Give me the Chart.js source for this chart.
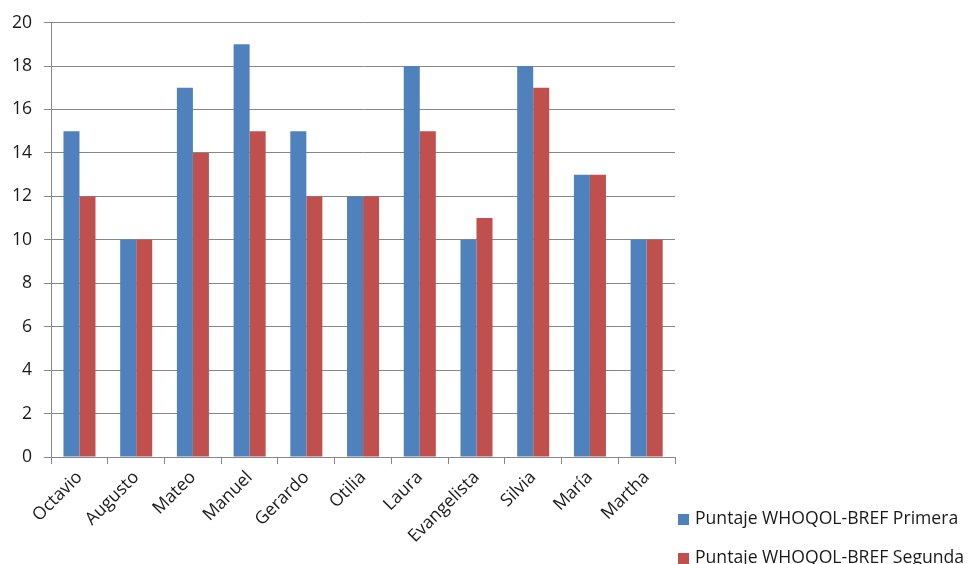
<!DOCTYPE html>
<html>
<head>
<meta charset="utf-8">
<script src="https://cdn.jsdelivr.net/npm/chart.js@4"></script>
<style>
  html, body { margin: 0; padding: 0; background: #fff; }
  #wrap { position: relative; width: 970px; height: 564px; overflow: hidden; }
  .leyenda {
    position: absolute;
    left: 678px;
    font: 17.6px 'Open Sans', Lato, sans-serif;
    color: #1a1a1a;
    white-space: nowrap;
    line-height: 22px;
  }
  .leyenda span {
    display: inline-block;
    width: 11px;
    height: 11px;
    margin-right: 6px;
    vertical-align: -1px;
  }
</style>
</head>
<body>
<div id="wrap">
  <canvas id="whoqolChart"></canvas>
  <div class="leyenda" id="ley1" style="top:506px"></div>
  <div class="leyenda" id="ley2" style="top:545px"></div>
</div>
<script>
const nombres = ['Octavio', 'Augusto', 'Mateo', 'Manuel', 'Gerardo', 'Otilia', 'Laura', 'Evangelista', 'Silvia', 'María', 'Martha'];
const primera = [15, 10, 17, 19, 15, 12, 18, 10, 18, 13, 10];
const segunda = [12, 10, 14, 15, 12, 12, 15, 11, 17, 13, 10];
const yTicks = [0, 2, 4, 6, 8, 10, 12, 14, 16, 18, 20];
const series = ['Puntaje WHOQOL-BREF Primera', 'Puntaje WHOQOL-BREF Segunda'];
const colores = ['#4F81BD', '#C0504D'];

const fuente = "'Open Sans', Lato, sans-serif";
const gris = '#878787';

// leyenda en html, abajo a la derecha
['ley1', 'ley2'].forEach((id, i) => {
    document.getElementById(id).innerHTML = `<span style="background:${colores[i]}"></span>${series[i]}`;
});

const ctx = document.getElementById('whoqolChart').getContext('2d');

new Chart(ctx, {
    type: 'bar',
    data: {
        labels: nombres,
        datasets: series.map((nombre, i) => ({
            label: nombre,
            data: i === 0 ? primera : segunda,
            backgroundColor: colores[i],
            categoryPercentage: 0.565,
            barPercentage: 1
        }))
    },
    options: {
        responsive: true,
        maintainAspectRatio: false,
        animation: false,
        layout: { padding: { top: 10, left: 0, right: 295, bottom: 14 } },
        plugins: {
            tooltip: { enabled: false },
            legend: { display: false }
        },
        scales: {
            x: {
                grid: {
                    offset: true,
                    drawOnChartArea: false,
                    tickLength: 7,
                    color: gris
                },
                border: { color: gris, width: 1 },
                ticks: {
                    maxRotation: 45,
                    minRotation: 45,
                    padding: 3,
                    color: '#1a1a1a',
                    font: { family: fuente, size: 17.6 }
                }
            },
            y: {
                min: 0,
                max: 20,
                afterBuildTicks: (axis) => {
                    axis.ticks = yTicks.map(v => ({ value: v }));
                },
                grid: { color: gris, tickLength: 7 },
                border: { color: gris, width: 1 },
                ticks: {
                    color: '#1a1a1a',
                    padding: 12,
                    font: { family: fuente, size: 17.6 }
                }
            }
        }
    }
});
</script>
</body>
</html>
